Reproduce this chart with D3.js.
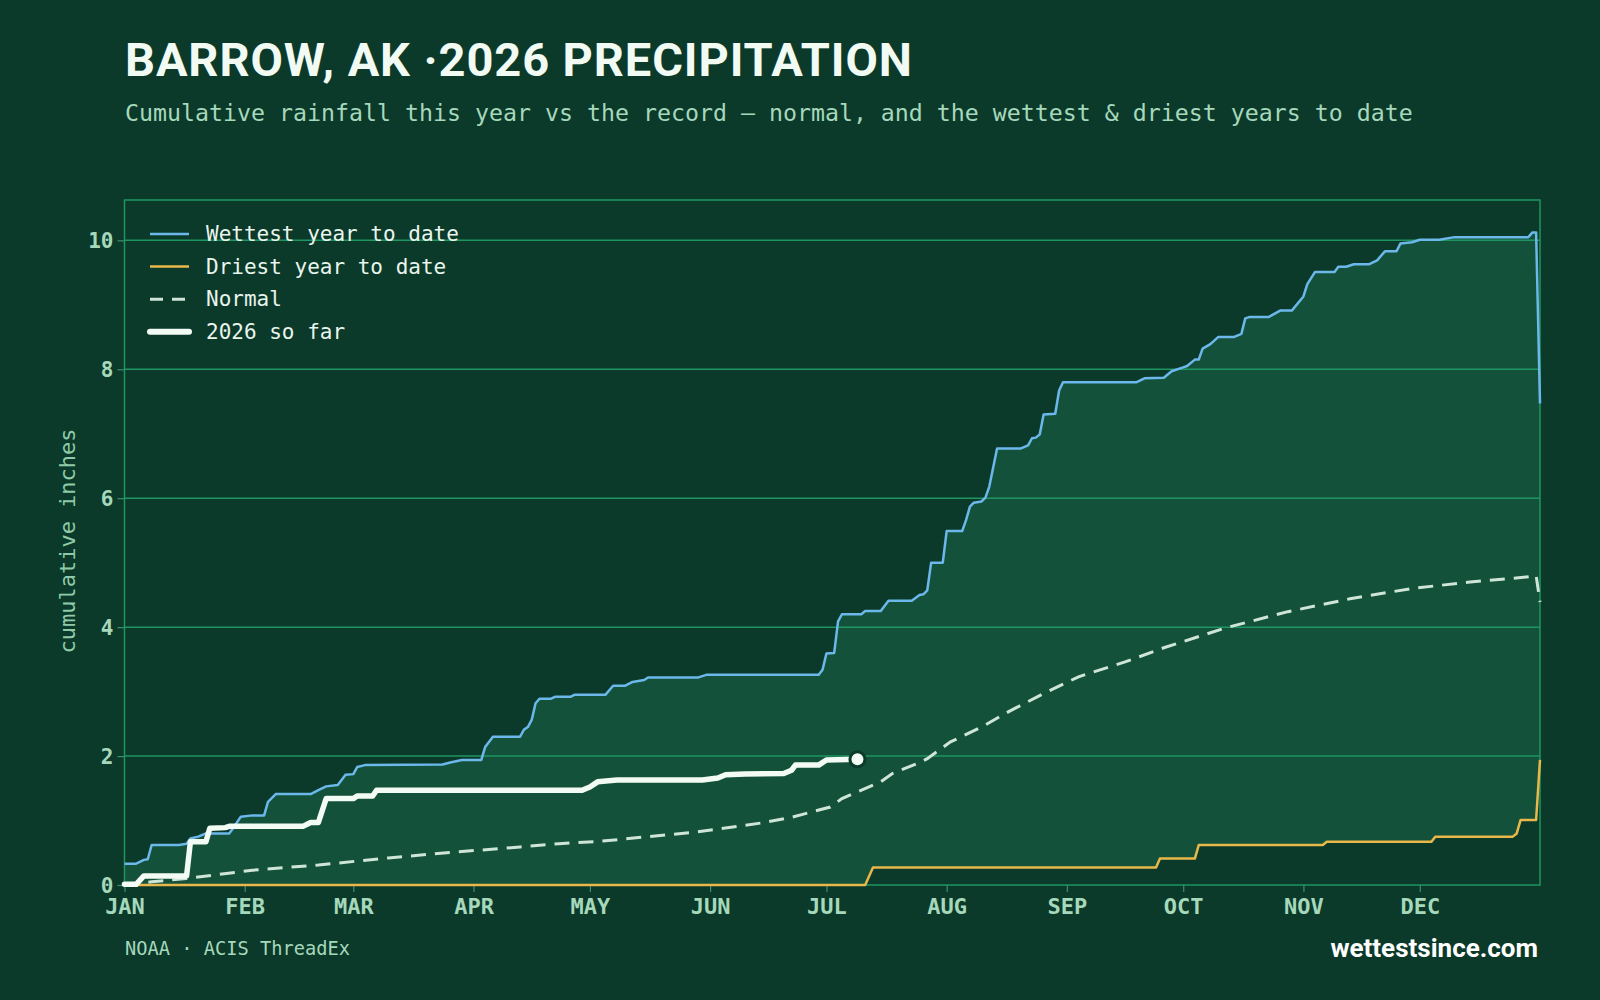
<!DOCTYPE html>
<html>
<head>
<meta charset="utf-8">
<script src="https://cdn.jsdelivr.net/npm/d3@7/dist/d3.min.js"></script>
<style>
    html, body { margin: 0; padding: 0; background: #0b3a2a; }
    svg { display: block; }
</style>
</head>
<body>
<div id="chart"></div>
<script>
// month starts as day-of-year, with their tick labels
var monthStarts = [0, 31, 59, 90, 120, 151, 181, 212, 243, 273, 304, 334];
var monthLabels = ['JAN', 'FEB', 'MAR', 'APR', 'MAY', 'JUN', 'JUL', 'AUG', 'SEP', 'OCT', 'NOV', 'DEC'];
var yTicks = [0, 2, 4, 6, 8, 10];

// [day of year, cumulative inches]
var wettest = [
    [0,0.33],[3,0.33],[5,0.39],[6,0.40],[7,0.62],[14,0.62],[16,0.64],[17,0.72],[19,0.75],[21,0.80],
    [27,0.80],[28,0.88],[30,1.06],[33,1.08],[36,1.08],[37,1.29],[39,1.41],[48,1.41],[50,1.47],[52,1.53],
    [55,1.55],[57,1.71],[59,1.72],[60,1.83],[62,1.86],[82,1.87],[84,1.90],[87,1.94],[92,1.94],[93,2.14],
    [95,2.30],[102,2.30],[103,2.41],[104,2.45],[105,2.56],[106,2.82],[107,2.89],[110,2.89],[111,2.92],[115,2.92],
    [116,2.95],[124,2.95],[126,3.09],[129,3.09],[131,3.15],[134,3.18],[135,3.22],[148,3.22],[150,3.26],[179,3.26],
    [180,3.34],[181,3.59],[183,3.60],[184,4.09],[185,4.20],[190,4.20],[191,4.25],[195,4.25],[197,4.41],[203,4.41],
    [205,4.50],[206,4.51],[207,4.57],[208,5.00],[211,5.00],[212,5.49],[216,5.49],[217,5.66],[218,5.87],[219,5.93],
    [221,5.95],[222,6.01],[223,6.18],[225,6.77],[231,6.77],[233,6.82],[234,6.93],[235,6.94],[236,6.99],[237,7.30],
    [240,7.31],[241,7.67],[242,7.80],[261,7.80],[263,7.86],[268,7.87],[270,7.97],[273,8.03],[274,8.05],[276,8.15],
    [277,8.15],[278,8.32],[280,8.39],[282,8.50],[286,8.50],[288,8.55],[289,8.79],[290,8.81],[295,8.81],[298,8.91],
    [301,8.91],[304,9.13],[305,9.32],[307,9.51],[312,9.51],[313,9.59],[315,9.59],[317,9.63],[321,9.63],[323,9.69],
    [325,9.83],[328,9.83],[329,9.95],[332,9.97],[334,10.01],[339,10.01],[343,10.05],[362,10.05],[363,10.12],[364,10.12],
    [365,7.47]
];

var driest = [
    [0,0],[191,0],[193,0.27],[266,0.27],[267,0.41],[276,0.41],[277,0.62],[309,0.62],[310,0.67],[337,0.67],
    [338,0.75],[358,0.75],[359,0.80],[360,1.01],[364,1.01],[365,1.94]
];

var normal = [
    [0,0],[7,0.05],[16,0.10],[33,0.23],[50,0.31],[68,0.42],[85,0.51],[102,0.59],[112,0.64],[123,0.68],
    [130,0.72],[147,0.82],[164,0.96],[172,1.05],[182,1.21],[185,1.34],[195,1.60],[198,1.73],[205,1.90],[207,1.96],
    [213,2.22],[221,2.45],[228,2.69],[237,2.97],[246,3.23],[258,3.46],[268,3.68],[284,3.99],[300,4.24],[316,4.44],
    [332,4.60],[347,4.70],[362,4.78],[364,4.80],[365,4.39]
];

var thisYear = [
    [0,0.01],[3,0.01],[5,0.14],[16,0.14],[17,0.67],[21,0.67],[22,0.88],[26,0.89],[27,0.91],[46,0.91],
    [48,0.97],[50,0.97],[52,1.34],[59,1.34],[60,1.38],[64,1.38],[65,1.47],[118,1.47],[120,1.52],[122,1.60],
    [127,1.63],[149,1.63],[153,1.66],[155,1.71],[160,1.72],[170,1.73],[172,1.78],[173,1.86],[179,1.86],[181,1.94],
    [189,1.95]
];

var legendItems = [
    {label: 'Wettest year to date', color: '#6cb8ea', width: 2.5, dash: null},
    {label: 'Driest year to date', color: '#e8b84a', width: 2.5, dash: null},
    {label: 'Normal', color: '#cfe5d7', width: 3, dash: '13,9'},
    {label: '2026 so far', color: '#f3fbf5', width: 6, dash: null}
];

var W = 1600, H = 1000;
var margin = {top: 200, right: 60, bottom: 115, left: 124.5};
var width = W - margin.left - margin.right,
    height = H - margin.top - margin.bottom;

var mono = "'DejaVu Sans Mono', monospace";
var sans = "Roboto, 'Noto Sans', sans-serif";

var svg = d3.select('#chart').append('svg')
    .attr('width', W)
    .attr('height', H)
    .style('background', '#0b3a2a');

// header
svg.append('text')
    .attr('x', 125)
    .attr('y', 76)
    .attr('fill', '#f1faf3')
    .style('font-family', sans)
    .style('font-weight', 700)
    .style('font-size', '47px')
    .style('letter-spacing', '0.9px')
    .text('BARROW, AK \u00b72026 PRECIPITATION');

svg.append('text')
    .attr('x', 125)
    .attr('y', 121)
    .attr('fill', '#a6d8bb')
    .style('font-family', mono)
    .style('font-size', '23.25px')
    .text('Cumulative rainfall this year vs the record \u2014 normal, and the wettest & driest years to date');

var g = svg.append('g')
    .attr('transform', 'translate(' + margin.left + ',' + margin.top + ')');

var x = d3.scaleLinear().domain([0, 365]).range([0, width]);
var yMax = d3.max(wettest, function(d) { return d[1]; }) * 1.05;
var y = d3.scaleLinear().domain([0, yMax]).range([height, 0]);

// band between driest and wettest, sampled on shared days
var wetAt = d3.scaleLinear().domain(wettest.map(function(d){ return d[0]; })).range(wettest.map(function(d){ return d[1]; }));
var dryAt = d3.scaleLinear().domain(driest.map(function(d){ return d[0]; })).range(driest.map(function(d){ return d[1]; }));
var allDays = d3.sort(d3.union(d3.range(0, 366), wettest.map(function(d){ return d[0]; }), driest.map(function(d){ return d[0]; })));

g.append('path')
    .datum(allDays)
    .attr('fill', '#13513b')
    .attr('d', d3.area()
        .x(function(d) { return x(d); })
        .y0(function(d) { return y(dryAt(d)); })
        .y1(function(d) { return y(wetAt(d)); }));

// gridlines
g.selectAll('.grid')
    .data(yTicks.filter(function(t) { return t > 0; }))
    .enter().append('line')
    .attr('x1', 0)
    .attr('x2', width)
    .attr('y1', function(d) { return y(d); })
    .attr('y2', function(d) { return y(d); })
    .attr('stroke', '#1e9562')
    .attr('stroke-width', 1.5);

// frame
g.append('rect')
    .attr('width', width)
    .attr('height', height)
    .attr('fill', 'none')
    .attr('stroke', '#1e9562')
    .attr('stroke-width', 1.5);

// axes
var yAxis = g.append('g')
    .call(d3.axisLeft(y).tickValues(yTicks).tickSize(7).tickPadding(4).tickFormat(d3.format('d')));
var xAxis = g.append('g')
    .attr('transform', 'translate(0,' + height + ')')
    .call(d3.axisBottom(x).tickValues(monthStarts).tickSize(7).tickPadding(5)
        .tickFormat(function(d, i) { return monthLabels[i]; }));

[yAxis, xAxis].forEach(function(ax) {
    ax.select('.domain').remove();
    ax.selectAll('line').attr('stroke', '#3f8f6a').attr('stroke-width', 1.2);
    ax.selectAll('text')
        .attr('fill', '#a6d8bb')
        .style('font-family', mono)
        .style('font-weight', 700);
});
yAxis.selectAll('text').style('font-size', '21px').attr('dy', '0.36em');
xAxis.selectAll('text').style('font-size', '22px').attr('dy', '0.76em');

g.append('text')
    .attr('transform', 'translate(' + (67 - margin.left) + ',' + (541 - margin.top) + ') rotate(-90)')
    .attr('text-anchor', 'middle')
    .attr('dy', '0.35em')
    .attr('fill', '#8fcaa8')
    .style('font-family', mono)
    .style('font-size', '22px')
    .text('cumulative inches');

var line = d3.line()
    .x(function(d) { return x(d[0]); })
    .y(function(d) { return y(d[1]); });

g.append('path').datum(driest)
    .attr('fill', 'none').attr('stroke', '#e8b84a').attr('stroke-width', 2.5)
    .attr('stroke-linejoin', 'round').attr('d', line);

g.append('path').datum(wettest)
    .attr('fill', 'none').attr('stroke', '#6cb8ea').attr('stroke-width', 2.5)
    .attr('stroke-linejoin', 'round').attr('d', line);

g.append('path').datum(normal)
    .attr('fill', 'none').attr('stroke', '#cfe5d7').attr('stroke-width', 3)
    .attr('stroke-dasharray', '15,9').attr('d', line);

g.append('path').datum(thisYear)
    .attr('fill', 'none').attr('stroke', '#f3fbf5').attr('stroke-width', 5.5)
    .attr('stroke-linejoin', 'round').attr('stroke-linecap', 'round').attr('d', line);

var last = thisYear[thisYear.length - 1];
g.append('circle')
    .attr('cx', x(last[0]))
    .attr('cy', y(last[1]))
    .attr('r', 7.5)
    .attr('fill', '#f3fbf5')
    .attr('stroke', '#0b3a2a')
    .attr('stroke-width', 3);

// legend
var legend = g.append('g')
    .attr('transform', 'translate(' + (148 - margin.left) + ',' + (234 - margin.top) + ')');
var rows = legend.selectAll('g')
    .data(legendItems)
    .enter().append('g')
    .attr('transform', function(d, i) { return 'translate(0,' + (i * 32.6) + ')'; });
rows.append('line')
    .attr('x1', 2).attr('x2', 41)
    .attr('stroke', function(d) { return d.color; })
    .attr('stroke-width', function(d) { return d.width; })
    .attr('stroke-linecap', function(d) { return d.width > 4 ? 'round' : 'butt'; })
    .attr('stroke-dasharray', function(d) { return d.dash; });
rows.append('text')
    .attr('x', 58)
    .attr('dy', '0.33em')
    .attr('fill', '#e9f5ed')
    .style('font-family', mono)
    .style('font-size', '21px')
    .text(function(d) { return d.label; });

// footer
svg.append('text')
    .attr('x', 125)
    .attr('y', 955)
    .attr('fill', '#a6d8bb')
    .style('font-family', mono)
    .style('font-size', '18.7px')
    .text('NOAA \u00b7 ACIS ThreadEx');

svg.append('text')
    .attr('x', 1538)
    .attr('y', 957)
    .attr('text-anchor', 'end')
    .attr('fill', '#ffffff')
    .style('font-family', sans)
    .style('font-weight', 700)
    .style('font-size', '26px')
    .text('wettestsince.com');
</script>
</body>
</html>
